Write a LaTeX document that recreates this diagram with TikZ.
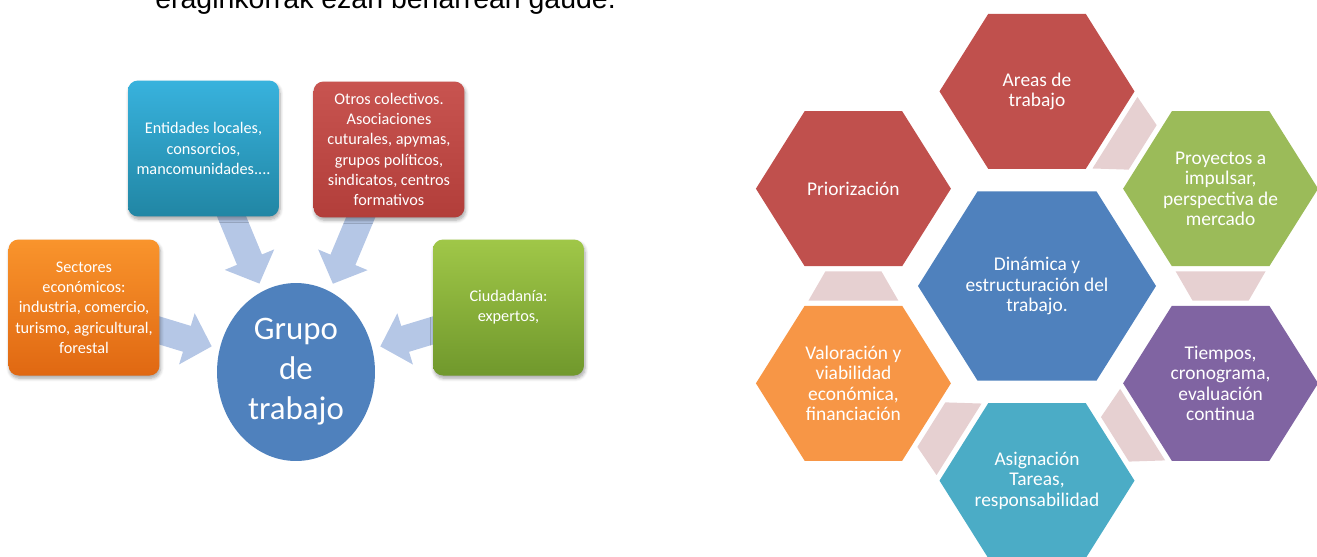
\documentclass[tikz,border=0pt]{standalone}
\usepackage{fontspec}
\setmainfont{Carlito}
\newfontfamily\headfont{Liberation Sans}
\usetikzlibrary{positioning,shapes.geometric,arrows.meta,shadows.blur,backgrounds}
\definecolor{g1t}{RGB}{56,178,221}
\definecolor{g1b}{RGB}{33,134,164}
\definecolor{g2t}{RGB}{200,84,80}
\definecolor{g2b}{RGB}{178,62,58}
\definecolor{g3t}{RGB}{249,148,44}
\definecolor{g3b}{RGB}{224,104,18}
\definecolor{g4t}{RGB}{160,199,72}
\definecolor{g4b}{RGB}{112,152,44}
\definecolor{gblue}{RGB}{79,129,189}
\definecolor{gfeed}{RGB}{181,199,230}
\definecolor{hred}{RGB}{192,80,77}
\definecolor{hgreen}{RGB}{155,187,89}
\definecolor{hblue}{RGB}{79,129,189}
\definecolor{horange}{RGB}{247,150,70}
\definecolor{hpurple}{RGB}{128,100,162}
\definecolor{haqua}{RGB}{75,172,198}
\definecolor{hlink}{RGB}{230,208,209}
\tikzset{%
  box/.style = { rounded corners=0.2cm, minimum width=3.02cm, minimum height=2.72cm, inner sep=0pt, align=center, text=white, font=\fontsize{9.24pt}{11.56pt}\selectfont, blur shadow={shadow xshift=0.6pt, shadow yshift=-1.6pt, shadow blur steps=6, shadow opacity=35} },
  hub/.style = { ellipse, fill=gblue, minimum width=3.16cm, minimum height=3.56cm, inner sep=0pt, align=center, text=white, font=\fontsize{18.7pt}{22.7pt}\selectfont },
  feed/.style = { draw=gfeed, line width=0.54cm, -{Triangle[width=1.04cm, length=0.52cm]}, shorten >=0.16cm, shorten <=-0.2cm },
  hextext/.style = { align=center, text=white, inner sep=0pt, font=\fontsize{11.05pt}{11.7pt}\selectfont },
  heading/.style = { anchor=base west, inner sep=0pt, font=\headfont\fontsize{16.2pt}{19pt}\selectfont }
}

\begin{document}
\begin{tikzpicture}[x=0.02cm, y=-0.02cm]
  \useasboundingbox (0,0) rectangle (1317,556);
  \clip (0,0) rectangle (1317,556);

  % Heading (cut by the page edge)
  \node[heading] (heading) at (155,8) {eraginkorrak ezan beharrean gaude.};

  % Grupo de trabajo
  \node[hub] (grupo) at (296,372) {Grupo\\de\\trabajo};
  \node[box, top color=g1t, bottom color=g1b] (entidades) at (203.5,148.5) {Entidades locales,\\consorcios,\\mancomunidades....};
  \node[box, top color=g2t, bottom color=g2b] (otros) at (389,149.5) {Otros colectivos.\\Asociaciones\\cuturales, apymas,\\grupos políticos,\\sindicatos, centros\\formativos};
  \node[box, top color=g3t, bottom color=g3b] (sectores) at (84,307.5) {Sectores\\económicos:\\industria, comercio,\\turismo, agricultural,\\forestal};
  \node[box, top color=g4t, bottom color=g4b] (ciudadania) at (508.5,307.5) {Ciudadanía:\\expertos,};

  \begin{scope}[on background layer]
    \foreach \src in {entidades,otros,sectores,ciudadania}
      \draw[feed] (\src) -- (grupo);
  \end{scope}

  % Hexagon ring
  \begin{scope}[shift={(1037,286)}, yscale=-0.918]
    % links between neighbours
    \foreach \m in {60,0,-60,-120,-180} {
      \fill[hlink] ([shift={(\m+90:16)}]\m:228.6) -- ([shift={(\m+90:16)}]\m:138.6)
        -- ([shift={(\m-90:16)}]\m:155.6) -- ([shift={(\m-90:16)}]\m:211.6) -- cycle;
    }

    % centre
    \fill[hblue] (0:119) -- (60:119) -- (120:119) -- (180:119) -- (240:119) -- (300:119) -- cycle;
    \node[hextext] (dinamica) at (0,0) {Dinámica y\\estructuración del\\trabajo.};

    % ring
    \foreach \a/\hc/\nm/\lbl in {90/hred/areas/{Areas de\\trabajo},
        30/hgreen/proyectos/{Proyectos a\\impulsar,\\perspectiva de\\mercado},
        -30/hpurple/tiempos/{Tiempos,\\cronograma,\\evaluación\\continua},
        -90/haqua/asignacion/{Asignación\\Tareas,\\responsabilidad},
        -150/horange/valoracion/{Valoración y\\viabilidad\\económica,\\financiación},
        150/hred/priorizacion/{Priorización}} {
      \begin{scope}[shift={(\a:212)}]
        \fill[\hc] (0:97.5) -- (60:97.5) -- (120:97.5) -- (180:97.5) -- (240:97.5) -- (300:97.5) -- cycle;
      \end{scope}
      \node[hextext] (\nm) at (\a:212) {\lbl};
    }
  \end{scope}
\end{tikzpicture}
\end{document}
